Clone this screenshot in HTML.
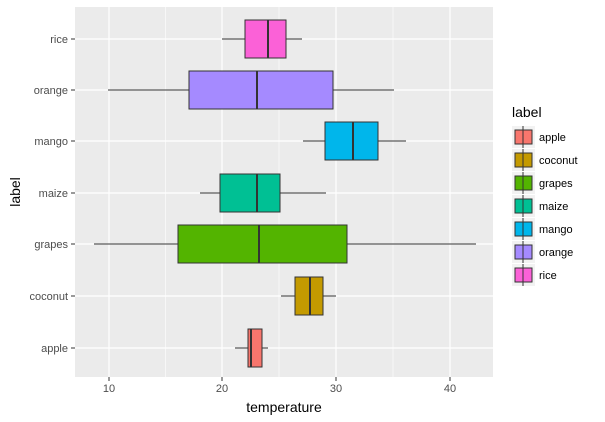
<!DOCTYPE html>
<html><head><meta charset="utf-8"><style>body{margin:0;background:#fff}svg{display:block;font-family:"Liberation Sans",Arial,sans-serif}</style></head><body>
<svg width="605" height="422" xmlns="http://www.w3.org/2000/svg">
<rect width="605" height="422" fill="#fff"/>
<rect x="75" y="7" width="418" height="370" fill="#EBEBEB"/>
<g stroke="#fff" stroke-width="0.6">
<line x1="165.5" y1="7" x2="165.5" y2="377"/><line x1="279" y1="7" x2="279" y2="377"/><line x1="393" y1="7" x2="393" y2="377"/>
</g>
<g stroke="#fff" stroke-width="1.2">
<line x1="109" y1="7" x2="109" y2="377"/><line x1="222" y1="7" x2="222" y2="377"/><line x1="336" y1="7" x2="336" y2="377"/><line x1="450" y1="7" x2="450" y2="377"/>
<line x1="75" y1="348" x2="493" y2="348"/><line x1="75" y1="296" x2="493" y2="296"/><line x1="75" y1="244" x2="493" y2="244"/><line x1="75" y1="193" x2="493" y2="193"/><line x1="75" y1="141" x2="493" y2="141"/><line x1="75" y1="90" x2="493" y2="90"/><line x1="75" y1="39" x2="493" y2="39"/>
</g>
<g stroke="#333" stroke-width="1">
<line x1="222" y1="39" x2="302" y2="39"/><rect x="245" y="20" width="41" height="38" fill="#FB61D7"/><line x1="268" y1="20" x2="268" y2="58" stroke-width="2"/>
<line x1="108" y1="90" x2="394" y2="90"/><rect x="189" y="71" width="144" height="38" fill="#A58AFF"/><line x1="257" y1="71" x2="257" y2="109" stroke-width="2"/>
<line x1="303" y1="141" x2="406" y2="141"/><rect x="325" y="122" width="53" height="38" fill="#00B6EB"/><line x1="353" y1="122" x2="353" y2="160" stroke-width="2"/>
<line x1="200" y1="193" x2="326" y2="193"/><rect x="220" y="174" width="60" height="38" fill="#00C094"/><line x1="257" y1="174" x2="257" y2="212" stroke-width="2"/>
<line x1="94" y1="244" x2="476" y2="244"/><rect x="178" y="225" width="169" height="38" fill="#53B400"/><line x1="259" y1="225" x2="259" y2="263" stroke-width="2"/>
<line x1="281" y1="296" x2="336" y2="296"/><rect x="295" y="277" width="28" height="38" fill="#C49A00"/><line x1="310" y1="277" x2="310" y2="315" stroke-width="2"/>
<line x1="235" y1="348" x2="268" y2="348"/><rect x="248" y="329" width="14" height="38" fill="#F8766D"/><line x1="251" y1="329" x2="251" y2="367" stroke-width="2"/>
</g>
<g stroke="#333"><line x1="71" y1="348" x2="75" y2="348"/><line x1="71" y1="296" x2="75" y2="296"/><line x1="71" y1="244" x2="75" y2="244"/><line x1="71" y1="193" x2="75" y2="193"/><line x1="71" y1="141" x2="75" y2="141"/><line x1="71" y1="90" x2="75" y2="90"/><line x1="71" y1="39" x2="75" y2="39"/>
<line x1="109" y1="377" x2="109" y2="381"/><line x1="222" y1="377" x2="222" y2="381"/><line x1="336" y1="377" x2="336" y2="381"/><line x1="450" y1="377" x2="450" y2="381"/></g>
<g font-size="11" fill="#4D4D4D" text-anchor="end">
<text x="68" y="352">apple</text><text x="68" y="300">coconut</text><text x="68" y="248">grapes</text><text x="68" y="197">maize</text><text x="68" y="145">mango</text><text x="68" y="94">orange</text><text x="68" y="43">rice</text></g>
<g font-size="11" fill="#4D4D4D" text-anchor="middle">
<text x="109" y="392">10</text><text x="222" y="392">20</text><text x="336" y="392">30</text><text x="450" y="392">40</text></g>
<text x="284" y="412" font-size="14" text-anchor="middle">temperature</text>
<text x="20" y="192" font-size="14" text-anchor="middle" transform="rotate(-90 20 192)">label</text>
<text x="512" y="117" font-size="14">label</text>
<g stroke="#333" font-size="11">
<g><rect x="512" y="126" width="23" height="22" fill="#F2F2F2" stroke="none"/><line x1="523" y1="126" x2="523" y2="148"/><rect x="515" y="130" width="17" height="14" fill="#F8766D"/><line x1="523" y1="130" x2="523" y2="144"/><text x="539" y="141" stroke="none">apple</text></g>
<g transform="translate(0,23)"><rect x="512" y="126" width="23" height="22" fill="#F2F2F2" stroke="none"/><line x1="523" y1="126" x2="523" y2="148"/><rect x="515" y="130" width="17" height="14" fill="#C49A00"/><line x1="523" y1="130" x2="523" y2="144"/><text x="539" y="141" stroke="none">coconut</text></g>
<g transform="translate(0,46)"><rect x="512" y="126" width="23" height="22" fill="#F2F2F2" stroke="none"/><line x1="523" y1="126" x2="523" y2="148"/><rect x="515" y="130" width="17" height="14" fill="#53B400"/><line x1="523" y1="130" x2="523" y2="144"/><text x="539" y="141" stroke="none">grapes</text></g>
<g transform="translate(0,69)"><rect x="512" y="126" width="23" height="22" fill="#F2F2F2" stroke="none"/><line x1="523" y1="126" x2="523" y2="148"/><rect x="515" y="130" width="17" height="14" fill="#00C094"/><line x1="523" y1="130" x2="523" y2="144"/><text x="539" y="141" stroke="none">maize</text></g>
<g transform="translate(0,92)"><rect x="512" y="126" width="23" height="22" fill="#F2F2F2" stroke="none"/><line x1="523" y1="126" x2="523" y2="148"/><rect x="515" y="130" width="17" height="14" fill="#00B6EB"/><line x1="523" y1="130" x2="523" y2="144"/><text x="539" y="141" stroke="none">mango</text></g>
<g transform="translate(0,115)"><rect x="512" y="126" width="23" height="22" fill="#F2F2F2" stroke="none"/><line x1="523" y1="126" x2="523" y2="148"/><rect x="515" y="130" width="17" height="14" fill="#A58AFF"/><line x1="523" y1="130" x2="523" y2="144"/><text x="539" y="141" stroke="none">orange</text></g>
<g transform="translate(0,138)"><rect x="512" y="126" width="23" height="22" fill="#F2F2F2" stroke="none"/><line x1="523" y1="126" x2="523" y2="148"/><rect x="515" y="130" width="17" height="14" fill="#FB61D7"/><line x1="523" y1="130" x2="523" y2="144"/><text x="539" y="141" stroke="none">rice</text></g>
</g>
</svg>
</body></html>
